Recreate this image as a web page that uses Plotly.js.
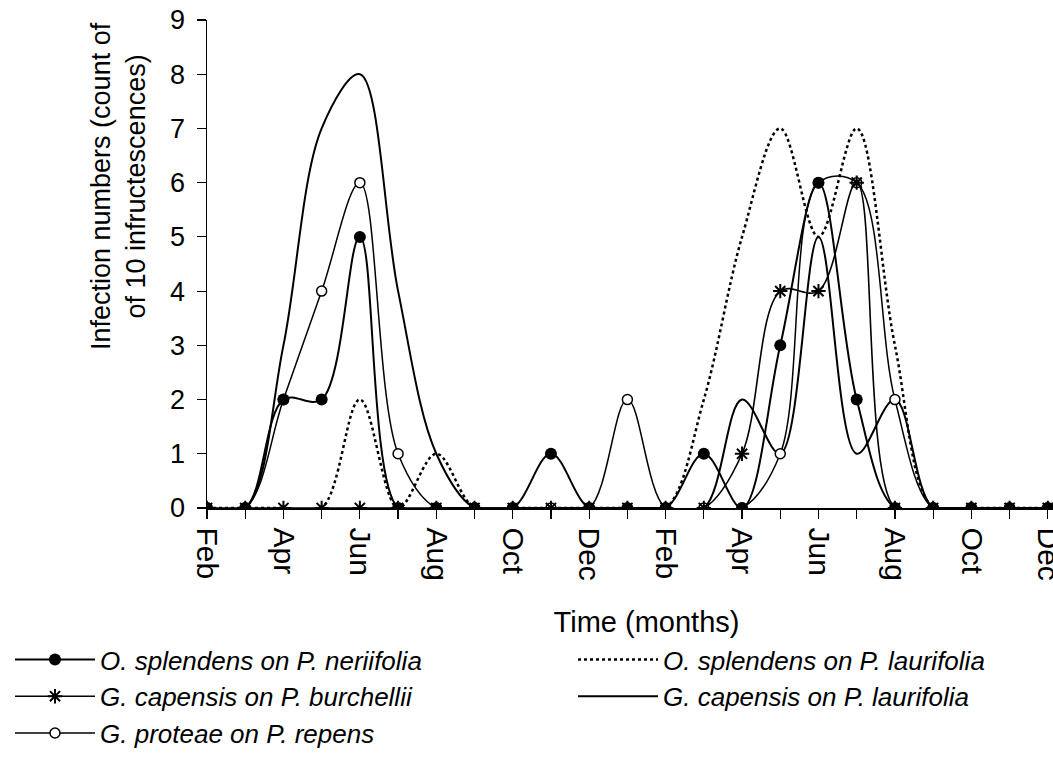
<!DOCTYPE html>
<html><head><meta charset="utf-8">
<script src="https://cdn.plot.ly/plotly-3.0.1.min.js"></script>
<style>html,body{margin:0;padding:0;overflow:hidden;background:#fff}#chart{width:1086px;height:780px}</style>
</head><body><div id="chart"></div><script>
// Monthly samples, Feb (year 1) .. Jan (year 3)
const months = ['Feb','Mar','Apr','May','Jun','Jul','Aug','Sep','Oct','Nov','Dec','Jan',
                'Feb','Mar','Apr','May','Jun','Jul','Aug','Sep','Oct','Nov','Dec','Jan'];
const tickLabels = ['Feb','','Apr','','Jun','','Aug','','Oct','','Dec','',
                    'Feb','','Apr','','Jun','','Aug','','Oct','','Dec',''];
const monthIndex = months.map((m, i) => i);

const oSplendensNeriifolia = [0,0,2,2,5,0,0,0,0,1,0,0, 0,1,0,3,6,2,0,0,0,0,0,0];
const gCapensisBurchellii  = [0,0,0,0,0,0,0,0,0,0,0,0, 0,0,1,4,4,6,0,0,0,0,0,0];
const gProteaeRepens       = [0,0,2,4,6,1,0,0,0,0,0,2, 0,0,0,1,6,6,2,0,0,0,0,0];
const oSplendensLaurifolia = [0,0,0,0,2,0,1,0,0,0,0,0, 0,2,5,7,5,7,3,0,0,0,0,0];
const gCapensisLaurifolia  = [0,0,3,7,8,4,1,0,0,0,0,0, 0,0,2,1,5,1,2,0,0,0,0,0];

const seriesNames = [
  'O. splendens on P. neriifolia',
  'G. capensis on P. burchellii',
  'G. proteae on P. repens',
  'O. splendens on P. laurifolia',
  'G. capensis on P. laurifolia'
];

const FONT = '"Liberation Sans", Arial, Helvetica, sans-serif';
const spline = {shape:'spline', smoothing:1, color:'#000'};

const traces = [
  {x: monthIndex, y: oSplendensLaurifolia, name: seriesNames[3], mode:'lines', legend:'legend2', legendrank:1,
   line: Object.assign({}, spline, {width:2.5, dash:'dot'})},
  {x: monthIndex, y: gCapensisLaurifolia, name: seriesNames[4], mode:'lines', legend:'legend2', legendrank:2,
   line: Object.assign({}, spline, {width:2})},
  {x: monthIndex, y: gProteaeRepens, name: seriesNames[2], mode:'lines+markers', legend:'legend', legendrank:3,
   line: Object.assign({}, spline, {width:1.5}),
   marker:{symbol:'circle', size:10, color:'#fff', line:{width:1.5, color:'#000'}}},
  {x: monthIndex, y: gCapensisBurchellii, name: seriesNames[1], mode:'lines+markers', legend:'legend', legendrank:2,
   line: Object.assign({}, spline, {width:1.6}),
   marker:{symbol:'asterisk-open', size:12, color:'#000', line:{width:2, color:'#000'}}},
  {x: monthIndex, y: oSplendensNeriifolia, name: seriesNames[0], mode:'lines+markers', legend:'legend', legendrank:1,
   line: Object.assign({}, spline, {width:2}),
   marker:{symbol:'circle', size:12, color:'#000'}}
];

const W = 1086, H = 780, L = 207, T = 20, B = 272;
const plotW = W - L, plotH = H - T - B;

const legendCommon = {
  orientation:'v', xanchor:'left', yanchor:'top', y:(508-636)/plotH,
  font:{family:FONT, size:26, style:'italic', color:'#000'},
  bgcolor:'rgba(0,0,0,0)', borderwidth:0, itemwidth:80, tracegroupgap:0, traceorder:'normal'
};

const layout = {
  width: W, height: H,
  margin:{l:L, r:0, t:T, b:B, pad:0},
  paper_bgcolor:'#fff', plot_bgcolor:'#fff',
  font:{family:FONT, size:26, color:'#000'},
  showlegend:true,
  xaxis:{
    range:[0,23], tickmode:'array', tickvals: monthIndex, ticktext: tickLabels,
    tickangle:90, ticks:'outside', ticklen:9, tickwidth:1.2, tickcolor:'#000',
    showline:true, linecolor:'#000', linewidth:1.5, showgrid:false, zeroline:false,
    tickfont:{size:30}, ticklabelstandoff:3,
    title:{text:'Time (months)', font:{size:29}, standoff:32}
  },
  yaxis:{
    range:[0,9], tickmode:'linear', tick0:0, dtick:1,
    ticks:'outside', ticklen:9, tickwidth:1.2, tickcolor:'#000',
    showline:true, linecolor:'#000', linewidth:1.5, showgrid:false, zeroline:false,
    tickfont:{size:27}, ticklabelstandoff:6
  },
  xaxis2:{
    overlaying:'x', anchor:'y', side:'top', range:[0,23],
    showline:true, linecolor:'#8c8c8c', linewidth:1.5, ticks:'', showticklabels:false,
    showgrid:false, zeroline:false
  },
  legend: Object.assign({}, legendCommon, {x:(10-L)/plotW}),
  legend2: Object.assign({}, legendCommon, {x:(573-L)/plotW}),
  annotations:[{
    xref:'paper', yref:'paper', x:(118-L)/plotW, y:(508-186)/plotH,
    text:'Infection numbers (count of<br>of 10 infructescences)',
    textangle:-90, showarrow:false, xanchor:'center', yanchor:'middle',
    font:{family:FONT, size:27, color:'#000'}
  }]
};

Plotly.newPlot('chart', traces, layout, {displayModeBar:false, staticPlot:true});
</script></body></html>
